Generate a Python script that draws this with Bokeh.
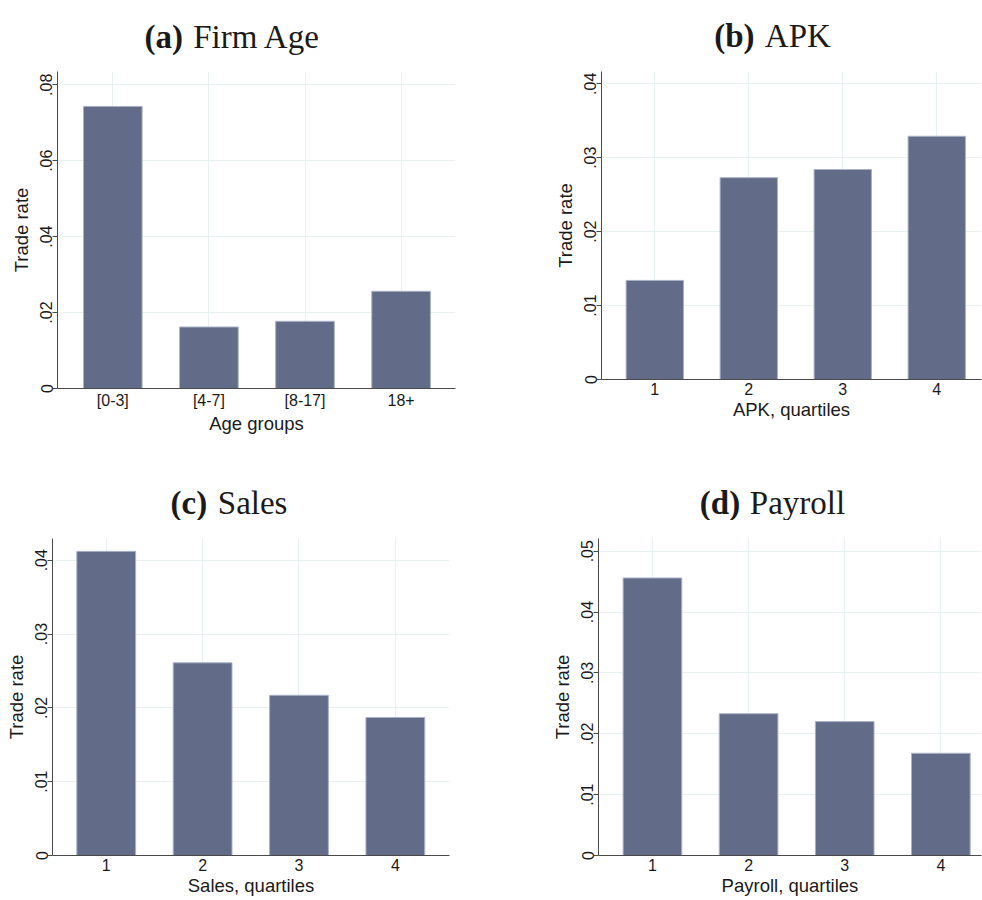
from bokeh.plotting import figure
from bokeh.models import Range1d, FixedTicker
from bokeh.core.properties import value
from bokeh.layouts import row, column
from bokeh.embed import file_html
from bokeh.resources import INLINE

# ---------------- data ----------------
age_groups = ["[0-3]", "[4-7]", "[8-17]", "18+"]
age_trade_rate = [0.0743, 0.0162, 0.0177, 0.0256]

quartiles = ["1", "2", "3", "4"]
apk_trade_rate = [0.0134, 0.0273, 0.0284, 0.0329]
sales_trade_rate = [0.0412, 0.0261, 0.0217, 0.0187]
payroll_trade_rate = [0.0456, 0.0233, 0.0220, 0.0168]

age_yticks = [0, 0.02, 0.04, 0.06, 0.08]
age_ytick_labels = ["0", ".02", ".04", ".06", ".08"]
apk_yticks = [0, 0.01, 0.02, 0.03, 0.04]
apk_ytick_labels = ["0", ".01", ".02", ".03", ".04"]
sales_yticks = [0, 0.01, 0.02, 0.03, 0.04]
sales_ytick_labels = ["0", ".01", ".02", ".03", ".04"]
payroll_yticks = [0, 0.01, 0.02, 0.03, 0.04, 0.05]
payroll_ytick_labels = ["0", ".01", ".02", ".03", ".04", ".05"]

y_title = "Trade rate"

# ---------------- style ----------------
BAR = "#626b88"
BAR_EDGE = "#a9b1c7"
GRID = "#e8f0f2"
AXIS = "#4a4a4a"
TEXT = "#1a1a1a"
SANS = "Liberation Sans"
SERIF = "Liberation Serif"
PANEL_W = 491


def make_title(tag, name, height, tag_x, name_x, base_y):
    t = figure(width=PANEL_W, height=height, output_backend="svg",
               toolbar_location=None, x_axis_type=None, y_axis_type=None,
               x_range=Range1d(0, PANEL_W), y_range=Range1d(0, height),
               min_border=0, frame_align=False)
    t.outline_line_color = None
    t.grid.visible = False
    t.text(x=[tag_x], y=[base_y], text=[tag], text_font=value(SERIF),
           text_font_style="bold", text_font_size="33px", text_color=TEXT,
           text_baseline="alphabetic", text_align="left")
    t.text(x=[name_x], y=[base_y], text=[name], text_font=value(SERIF),
           text_font_style="normal", text_font_size="33px", text_color=TEXT,
           text_baseline="alphabetic", text_align="left")
    return t


def make_panel(cats, vals, yticks, ylabels, xlabel, height, borders, xr, y_end):
    bl, br, bt, bb = borders
    p = figure(width=PANEL_W, height=height, output_backend="svg",
               toolbar_location=None, frame_align=False,
               x_range=Range1d(*xr), y_range=Range1d(0, y_end),
               min_border_left=bl, min_border_right=br,
               min_border_top=bt, min_border_bottom=bb)
    p.background_fill_color = "white"
    p.border_fill_color = "white"
    p.outline_line_color = None

    xs = list(range(1, len(cats) + 1))
    p.vbar(x=xs, top=vals, bottom=0, width=0.61,
           fill_color=BAR, line_color=BAR_EDGE, line_width=1)

    p.xaxis.ticker = FixedTicker(ticks=xs)
    p.xaxis.major_label_overrides = {x: c for x, c in zip(xs, cats)}
    p.yaxis.ticker = FixedTicker(ticks=yticks)
    p.yaxis.major_label_overrides = {t: l for t, l in zip(yticks, ylabels)}

    p.grid.grid_line_color = GRID
    p.grid.grid_line_width = 1

    for ax in (p.xaxis[0], p.yaxis[0]):
        ax.axis_line_color = AXIS
        ax.axis_line_width = 1
        ax.minor_tick_line_color = None
        ax.major_label_text_font = SANS
        ax.major_label_text_font_size = "16px"
        ax.major_label_text_color = TEXT
        ax.axis_label_text_font = SANS
        ax.axis_label_text_font_style = "normal"
        ax.axis_label_text_font_size = "18.5px"
        ax.axis_label_text_color = TEXT

    xa = p.xaxis[0]
    xa.axis_label = xlabel
    xa.major_tick_line_color = None
    xa.major_tick_out = 0
    xa.major_tick_in = 0
    xa.major_label_standoff = 3
    xa.axis_label_standoff = 1

    ya = p.yaxis[0]
    ya.axis_label = y_title
    ya.major_tick_line_color = AXIS
    ya.major_tick_out = 5
    ya.major_tick_in = 0
    ya.major_label_orientation = "parallel"
    ya.major_label_standoff = 0
    ya.axis_label_standoff = 6
    return p


# top row: titles 0..60, plots 60..450 ; bottom row: titles 450..520, plots 520..900
ta = make_title("(a)", "Firm Age", 60, 144, 192.7, 24)
pa = make_panel(age_groups, age_trade_rate, age_yticks, age_ytick_labels,
                "Age groups", 390, (57, 36, 11, 62), (0.4246, 4.566), 0.0835)

tb = make_title("(b)", "APK", 60, 222.7, 273.3, 25)
pb = make_panel(quartiles, apk_trade_rate, apk_yticks, apk_ytick_labels,
                "APK, quartiles", 390, (110, 1, 11, 71), (0.433, 4.476), 0.04166)

tc = make_title("(c)", "Sales", 70, 170, 217.3, 17.7)
pc = make_panel(quartiles, sales_trade_rate, sales_yticks, sales_ytick_labels,
                "Sales, quartiles", 380, (52, 42, 18, 45), (0.4424, 4.562), 0.04294)

td = make_title("(d)", "Payroll", 70, 208.3, 258.3, 17.7)
pd = make_panel(quartiles, payroll_trade_rate, payroll_yticks, payroll_ytick_labels,
                "Payroll, quartiles", 380, (107, 1, 18, 45), (0.4387, 4.423), 0.05209)

layout = column(row(column(ta, pa), column(tb, pb)),
                row(column(tc, pc), column(td, pd)))

open("out.html", "w").write(file_html(layout, INLINE))
